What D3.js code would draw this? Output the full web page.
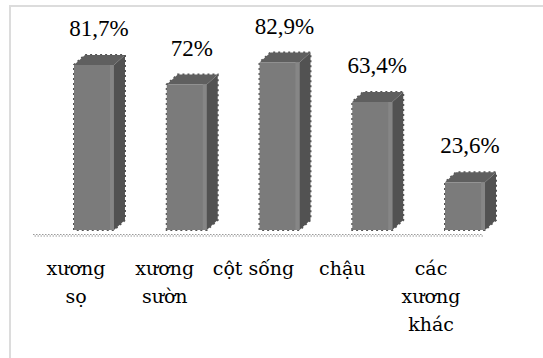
<!DOCTYPE html>
<html>
<head>
<meta charset="utf-8">
<script src="https://cdn.jsdelivr.net/npm/d3@7"></script>
<style>
  html, body { margin: 0; padding: 0; background: #fff; }
  svg { display: block; }
  text.val { font-family: "Liberation Serif", "Times New Roman", serif; font-size: 23px; }
  text.cat { font-family: "DejaVu Serif", serif; font-size: 19px; }
</style>
</head>
<body>
<svg id="chart" width="543" height="358"></svg>
<script>
const categories = ["xương sọ", "xương sườn", "cột sống", "chậu", "các xương khác"];
const categoryLines = [["xương", "sọ"], ["xương", "sườn"], ["cột sống"], ["chậu"], ["các", "xương", "khác"]];
const values = [81.7, 72, 82.9, 63.4, 23.6];
const valueLabels = ["81,7%", "72%", "82,9%", "63,4%", "23,6%"];

const svg = d3.select("#chart");

// chart area border
svg.append("rect")
  .attr("x", 10).attr("y", 6).attr("width", 640).attr("height", 420)
  .attr("fill", "none").attr("stroke", "#dcdcdc").attr("stroke-width", 2);

const x = d3.scaleBand().domain(categories).range([47.6, 511.4])
  .paddingInner(0.569).paddingOuter(0.2845);
const xLab = d3.scalePoint().domain(categories).range([76, 431]);
const y = d3.scaleLinear().domain([0, 100]).range([230, 28]);

const dx = 11, dy = 10;

// dotted floor edge
const floor = svg.append("g");
floor.append("line").attr("x1", 33).attr("x2", 483).attr("y1", 234.5).attr("y2", 234.5)
  .attr("stroke", "#9a9a9a").attr("stroke-width", 1.2).attr("stroke-dasharray", "1.5,1.5");
floor.append("line").attr("x1", 33).attr("x2", 483).attr("y1", 236).attr("y2", 236)
  .attr("stroke", "#9a9a9a").attr("stroke-width", 1.2).attr("stroke-dasharray", "1.5,1.5")
  .attr("stroke-dashoffset", 1.5);

const bars = svg.append("g").selectAll("g").data(categories).join("g");

bars.each(function(c, i) {
  const g = d3.select(this);
  const x0 = x(c), w = x.bandwidth(), yt = y(values[i]), yb = y(0);
  g.append("path")
    .attr("d", `M${x0},${yb} L${x0},${yt} L${x0 + dx},${yt - dy} L${x0 + w + dx},${yt - dy} L${x0 + w + dx},${yb - dy} L${x0 + w},${yb} Z`)
    .attr("fill", "none").attr("stroke", "#555").attr("stroke-width", 2)
    .attr("stroke-dasharray", "2,3");
  g.append("rect").attr("x", x0).attr("y", yt).attr("width", w).attr("height", yb - yt)
    .attr("fill", "#7b7b7b");
  g.append("rect").attr("x", x0 + w - 4).attr("y", yt).attr("width", 4).attr("height", yb - yt)
    .attr("fill", "#868686");
  g.append("path")
    .attr("d", `M${x0},${yt} L${x0 + dx},${yt - dy} L${x0 + w + dx},${yt - dy} L${x0 + w},${yt} Z`)
    .attr("fill", "#5f5f5f");
  g.append("path")
    .attr("d", `M${x0 + w},${yt} L${x0 + w + dx},${yt - dy} L${x0 + w + dx},${yb - dy} L${x0 + w},${yb} Z`)
    .attr("fill", "#525252");
  g.append("text").attr("class", "val")
    .attr("x", x0 + w / 2 + 5).attr("y", yt - dy - 19)
    .attr("text-anchor", "middle").attr("fill", "#000")
    .text(valueLabels[i]);
});

const labs = svg.append("g").selectAll("text").data(categories).join("text")
  .attr("class", "cat")
  .attr("x", d => xLab(d))
  .attr("text-anchor", "middle").attr("fill", "#000");
labs.each(function(c, i) {
  d3.select(this).selectAll("tspan").data(categoryLines[i]).join("tspan")
    .attr("x", xLab(c))
    .attr("y", (d, j) => 275 + j * 28)
    .text(d => d);
});
</script>
</body>
</html>
